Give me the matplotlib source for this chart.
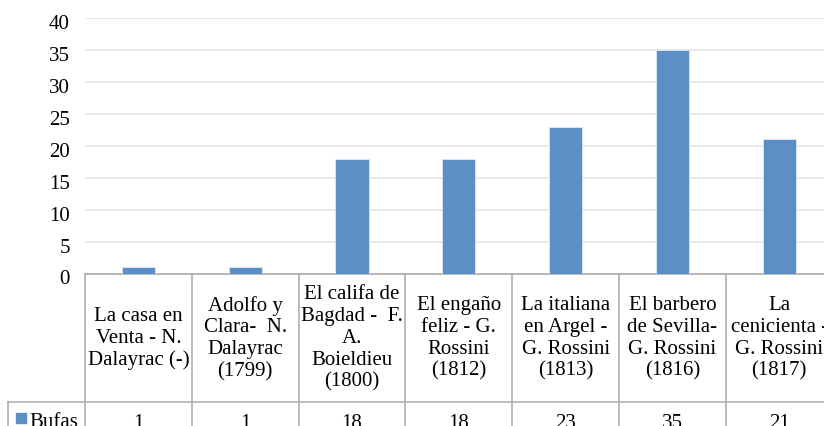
import matplotlib as mpl
mpl.use('Agg')
import matplotlib.pyplot as plt
import matplotlib.transforms as mtransforms
import numpy as np

mpl.rcParams['font.family'] = ['Liberation Serif', 'DejaVu Serif']

categories = ['La casa en\nVenta - N.\nDalayrac (-)',
              'Adolfo y\nClara-  N.\nDalayrac\n(1799)',
              'El califa de\nBagdad -  F.\nA.\nBoieldieu\n(1800)',
              'El engaño\nfeliz - G.\nRossini\n(1812)',
              'La italiana\nen Argel -\nG. Rossini\n(1813)',
              'El barbero\nde Sevilla-\nG. Rossini\n(1816)',
              'La\ncenicienta -\nG. Rossini\n(1817)']
bufas = [1, 1, 18, 18, 23, 35, 21]
series_name = 'Bufas'
yticks = [0, 5, 10, 15, 20, 25, 30, 35, 40]

W, H = 824, 427
bar_color = '#5B8FC6'
line_color = '#B0B0B0'
fs = 15

fig = plt.figure(figsize=(W / 100, H / 100), dpi=100)
# plot area in pixels: left 85, axis at y=274.5, top (40) at y=19, cell width 106.8
left, cell = 85, 106.8
n = len(categories)
x0_px, y0_px, ytop_px = left, 274.5, 19
ax = fig.add_axes([x0_px / W, (H - y0_px) / H, n * cell / W, (y0_px - ytop_px) / H])

x = np.arange(n)
ax.bar(x, bufas, width=0.31, color=bar_color, edgecolor='#DDE8F4', linewidth=0.6, zorder=3)
ax.set_xlim(-0.5, n - 0.5)
ax.set_ylim(0, 40)
ax.set_yticks(yticks)
ax.set_yticklabels([str(t) for t in yticks], fontsize=fs)
ax.tick_params(axis='y', length=0, pad=11)
ax.tick_params(axis='x', length=0, labelbottom=False)
shift = mtransforms.ScaledTranslation(0, -3 / 100, fig.dpi_scale_trans)
for lab in ax.get_yticklabels():
    lab.set_transform(lab.get_transform() + shift)
ax.yaxis.grid(True, color='#E4E4E4', linewidth=1.2, zorder=0)
for s in ['top', 'right', 'left']:
    ax.spines[s].set_visible(False)
ax.spines['bottom'].set_color(line_color)
ax.spines['bottom'].set_linewidth(1.3)

# data table below the axis, in pixel units
ph = y0_px - ytop_px
def fy(py):
    return (y0_px - py) / ph  # pixel y -> axes fraction

tr = ax.get_xaxis_transform()
row_line = 402.5
bottom = 440

# vertical separators
for i in range(n + 1):
    xb = i - 0.5
    ax.plot([xb, xb], [fy(y0_px), fy(bottom)], color=line_color, lw=1.2,
            transform=tr, clip_on=False)
# horizontal separator of the data row, extends to the row label cell
ax.plot([-0.5 - (left - 8) / cell, n - 0.5], [fy(row_line), fy(row_line)],
        color=line_color, lw=1.2, transform=tr, clip_on=False)
ax.plot([-0.5 - (left - 8) / cell] * 2, [fy(row_line), fy(bottom)],
        color=line_color, lw=1.2, transform=tr, clip_on=False)

# category labels
for i, lab in enumerate(categories):
    ax.text(i, fy((y0_px + row_line) / 2), lab, transform=tr, ha='center', va='center',
            fontsize=fs, linespacing=1.2, clip_on=False)
    ax.text(i, fy(row_line + 21), str(bufas[i]), transform=tr, ha='center', va='center',
            fontsize=fs, clip_on=False)

# legend key + series name
fig.patches.append(mpl.patches.Rectangle((16 / W, (H - 424) / H), 10 / W, 10 / H,
                                         transform=fig.transFigure, color=bar_color))
fig.text(29 / W, (H - 423) / H, series_name, ha='left', va='center', fontsize=fs)

fig.savefig('out.png', dpi=100)
